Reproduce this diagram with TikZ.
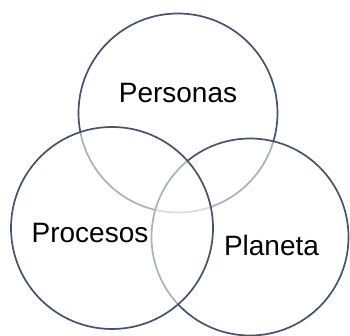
\documentclass[tikz,border=0pt]{standalone}
\usepackage{fontspec}
\setmainfont{Liberation Sans}
\definecolor{ringcol}{HTML}{44546A}
\begin{document}
\begin{tikzpicture}[x=1pt,y=-1pt,
  ring/.style={circle,draw=ringcol,line width=1.7pt,fill=white,fill opacity=0.55,draw opacity=1,inner sep=0pt},
  lbl/.style={font=\fontsize{28}{31}\selectfont,text=black,inner sep=0pt}]
\useasboundingbox (0,0) rectangle (350,336);
\node[ring,minimum size=199pt] (top) at (178,113) {};
\node[ring,minimum size=197pt] (right) at (250,237) {};
\node[ring,minimum size=202pt] (left) at (112,228) {};
\node[lbl] (personas) at (178,93) {Personas};
\node[lbl] (procesos) at (90,233) {Procesos};
\node[lbl] (planeta) at (271.5,245) {Planeta};
\end{tikzpicture}
\end{document}
